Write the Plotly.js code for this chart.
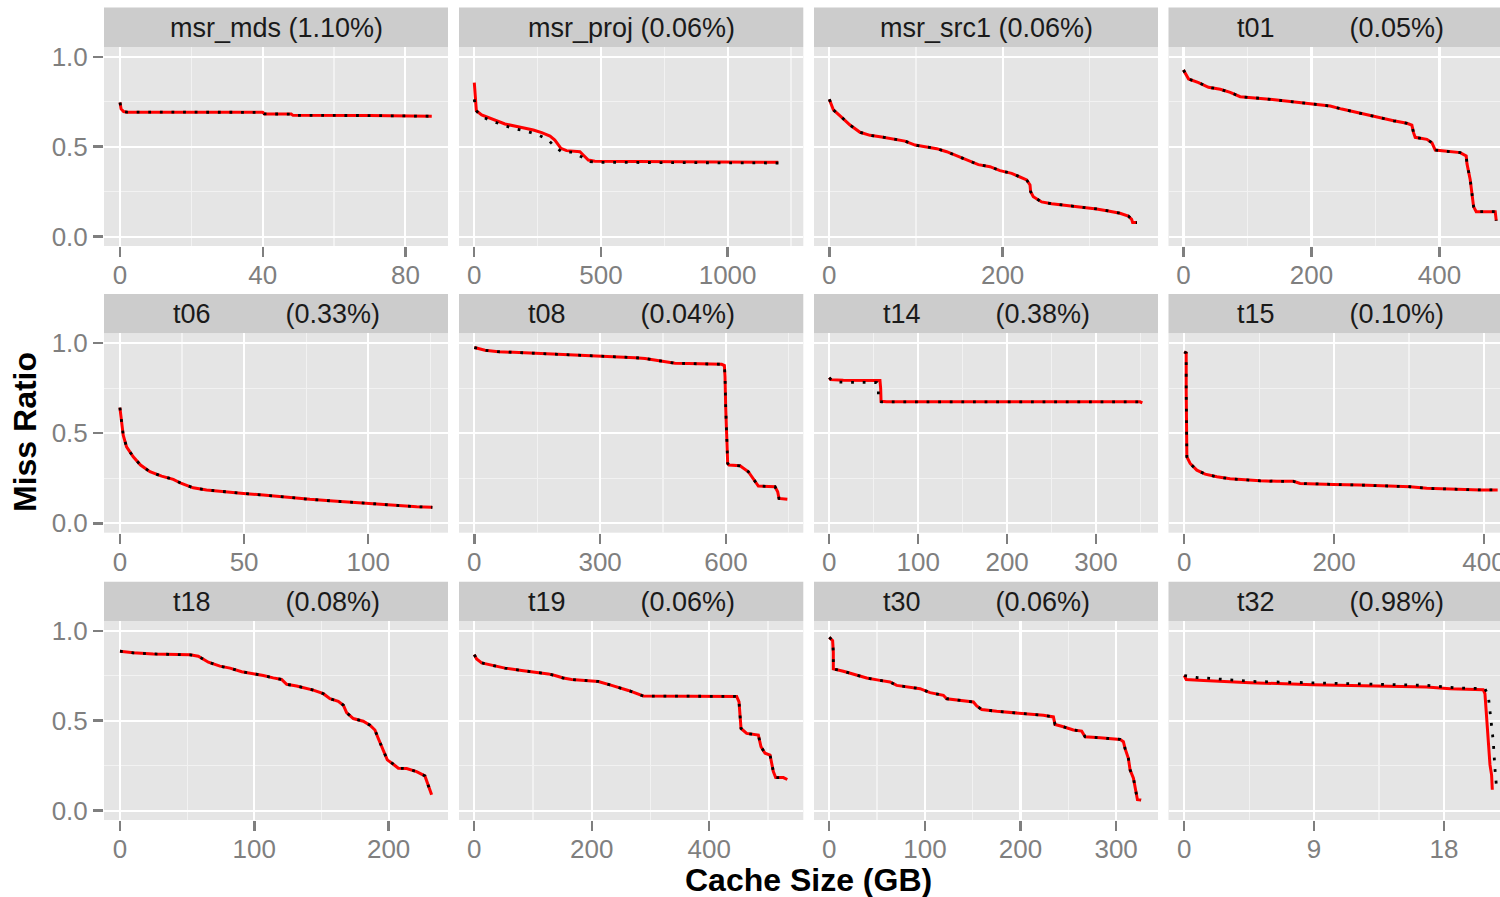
<!DOCTYPE html>
<html><head><meta charset="utf-8">
<script src="https://cdn.plot.ly/plotly-3.0.1.min.js"></script>
<style>html,body{margin:0;padding:0;overflow:hidden;background:#fff;width:1500px;height:897px}#chart{width:1513px;height:897px}</style>
</head><body><div id="chart"></div><script>
// ---------- data ----------
const traceNames = ['msr_mds','msr_proj','msr_src1','t01','t06','t08','t14','t15','t18','t19','t30','t32'];
const tracePct = ['1.10%','0.06%','0.06%','0.05%','0.33%','0.04%','0.38%','0.10%','0.08%','0.06%','0.06%','0.98%'];

const msrMdsX = [0, 0.3, 1, 2, 40, 40.5, 48, 48.5, 70, 87.4];
const msrMdsY = [0.745, 0.71, 0.695, 0.692, 0.691, 0.682, 0.681, 0.674, 0.673, 0.669];

const msrProjX = [0, 3, 5, 8, 29, 69, 121, 187, 233, 266, 299, 318, 342, 364, 417, 430, 450, 476, 641, 1200];
const msrProjY = [0.856, 0.80, 0.722, 0.700, 0.676, 0.654, 0.626, 0.607, 0.593, 0.578, 0.559, 0.537, 0.491, 0.478, 0.472, 0.454, 0.426, 0.419, 0.417, 0.413];
const msrProjBlackX = [0, 5, 29, 69, 141, 180, 220, 259, 292, 318, 345, 391, 424, 457, 503, 1226];
const msrProjBlackY = [0.763, 0.704, 0.667, 0.643, 0.607, 0.593, 0.580, 0.561, 0.537, 0.5, 0.472, 0.469, 0.441, 0.417, 0.413, 0.409];

const msrSrc1X = [0, 4.7, 14.3, 23.9, 35.4, 47.0, 60.4, 73.9, 87.3, 98.9, 110.4, 123.9, 135.4, 148.9, 160.4, 172.0, 185.4, 197.0, 210.4, 220.0, 227.7, 231.6, 232.3, 235.4, 245.0, 256.6, 270.0, 283.5, 296.9, 308.5, 321.9, 335.4, 345.0, 348.9, 350.0, 355.0];
const msrSrc1Y = [0.763, 0.704, 0.663, 0.620, 0.580, 0.563, 0.554, 0.543, 0.531, 0.509, 0.500, 0.489, 0.472, 0.444, 0.422, 0.400, 0.389, 0.367, 0.352, 0.333, 0.315, 0.287, 0.250, 0.222, 0.193, 0.183, 0.176, 0.169, 0.163, 0.154, 0.143, 0.130, 0.115, 0.096, 0.078, 0.078];

const t01X = [0, 7.9, 23.5, 39.1, 57.3, 73.0, 88.6, 104.2, 125.1, 145.9, 171.9, 192.8, 208.4, 229.2, 247.4, 265.7, 286.5, 307.3, 328.2, 349.0, 356.8, 359.4, 362.0, 380.3, 388.1, 393.3, 411.5, 432.3, 441.7, 442.8, 448.0, 450.6, 453.2, 457.3, 487.0, 488.6];
const t01Y = [0.926, 0.876, 0.856, 0.830, 0.819, 0.802, 0.778, 0.774, 0.767, 0.759, 0.750, 0.741, 0.735, 0.726, 0.709, 0.694, 0.674, 0.657, 0.644, 0.630, 0.620, 0.578, 0.552, 0.541, 0.522, 0.481, 0.476, 0.467, 0.448, 0.407, 0.315, 0.241, 0.167, 0.139, 0.139, 0.089];

const t06X = [0, 0.27, 0.67, 1.34, 2.68, 5.37, 8.32, 12.1, 16.8, 21.5, 24.8, 29.5, 34.9, 43.0, 49.7, 57.7, 67.1, 76.5, 85.9, 94.0, 103.4, 110.1, 119.5, 125.8];
const t06Y = [0.642, 0.609, 0.554, 0.489, 0.424, 0.369, 0.323, 0.286, 0.262, 0.244, 0.221, 0.197, 0.185, 0.173, 0.166, 0.157, 0.144, 0.133, 0.124, 0.116, 0.107, 0.098, 0.092, 0.089];

const t08X = [0, 25.5, 57.3, 113, 160.7, 216.3, 271.9, 327.6, 383.2, 407.1, 430.9, 454.8, 478.6, 510.4, 589.9, 596.3, 597.9, 599.4, 601.8, 604.2, 607.4, 633.6, 653.5, 669.4, 677.3, 717.1, 723.4, 726.6, 740.9, 746.5];
const t08Y = [0.975, 0.960, 0.952, 0.947, 0.941, 0.936, 0.932, 0.927, 0.919, 0.914, 0.904, 0.895, 0.888, 0.886, 0.882, 0.875, 0.812, 0.646, 0.461, 0.332, 0.323, 0.319, 0.286, 0.231, 0.207, 0.203, 0.175, 0.138, 0.133, 0.133];

const t14X = [0, 1.5, 15.8, 57.0, 57.8, 58.2, 64.5, 349.5, 352.1];
const t14Y = [0.808, 0.797, 0.794, 0.792, 0.748, 0.677, 0.674, 0.674, 0.668];
const t14BlackX = [0, 2.7, 10.2, 53.3, 55.2, 55.2, 58.9, 349.5];
const t14BlackY = [0.808, 0.794, 0.783, 0.781, 0.748, 0.677, 0.674, 0.674];

const t15X = [0, 2.7, 2.7, 3.1, 3.6, 8, 16.9, 28, 43.6, 61.3, 83.6, 101.3, 123.6, 145.8, 154.7, 172.4, 199.1, 234.7, 279.1, 301.3, 323.6, 350.2, 394.7, 418.2];
const t15Y = [0.951, 0.945, 0.738, 0.461, 0.369, 0.332, 0.295, 0.273, 0.258, 0.247, 0.240, 0.236, 0.233, 0.233, 0.221, 0.218, 0.216, 0.212, 0.207, 0.203, 0.194, 0.190, 0.185, 0.185];

const t18X = [0, 9.9, 24.8, 42.2, 52.1, 58.3, 65.8, 74.4, 81.9, 90.6, 99.3, 106.7, 114.1, 120.3, 124.1, 131.5, 143.9, 151.4, 156.3, 162.5, 166.3, 168.7, 173.7, 181.1, 186.1, 189.8, 192.3, 194.8, 197.3, 199.0, 203.5, 207.2, 213.4, 220.8, 227.0, 229.5, 232.0];
const t18Y = [0.886, 0.877, 0.871, 0.867, 0.866, 0.858, 0.825, 0.803, 0.792, 0.772, 0.761, 0.751, 0.738, 0.729, 0.702, 0.693, 0.670, 0.650, 0.622, 0.608, 0.586, 0.545, 0.512, 0.497, 0.475, 0.448, 0.401, 0.355, 0.319, 0.282, 0.258, 0.236, 0.234, 0.217, 0.193, 0.134, 0.088];

const t19X = [0, 4, 12.5, 29.6, 52.2, 80.6, 103.3, 126, 137.4, 151.6, 165.7, 194.1, 211.1, 233.8, 262.2, 287.7, 307.6, 364.3, 398.4, 446.6, 450.6, 452.3, 454, 463.6, 483.5, 488, 494.9, 503.4, 509, 513, 526, 532.8];
const t19Y = [0.867, 0.843, 0.821, 0.807, 0.792, 0.779, 0.770, 0.760, 0.751, 0.737, 0.729, 0.724, 0.718, 0.696, 0.668, 0.637, 0.637, 0.637, 0.635, 0.635, 0.604, 0.530, 0.457, 0.429, 0.420, 0.355, 0.319, 0.309, 0.217, 0.184, 0.184, 0.173];

const t30X = [0, 3.5, 4.2, 4.2, 14.7, 28.6, 39.1, 53, 63.5, 70.5, 84.4, 94.9, 105.4, 119.3, 122.8, 140.2, 150.7, 154.2, 159.4, 175.1, 196, 223.9, 234.4, 236.1, 244.8, 255.3, 264, 267.5, 283.2, 304.1, 307.6, 309.3, 312.8, 314.6, 318.1, 319.8, 322.3, 326.1];
const t30Y = [0.963, 0.945, 0.880, 0.788, 0.775, 0.755, 0.737, 0.724, 0.715, 0.696, 0.687, 0.678, 0.656, 0.641, 0.622, 0.611, 0.604, 0.582, 0.562, 0.552, 0.543, 0.530, 0.521, 0.479, 0.466, 0.448, 0.442, 0.411, 0.405, 0.396, 0.383, 0.346, 0.291, 0.227, 0.180, 0.125, 0.061, 0.059];

const t32X = [0, 0.14, 1.34, 4.57, 8.95, 13.34, 16.8, 18.42, 20.72, 20.84, 20.96, 21.07, 21.19, 21.3, 21.35];
const t32Y = [0.751, 0.729, 0.724, 0.711, 0.700, 0.692, 0.687, 0.678, 0.672, 0.650, 0.530, 0.383, 0.254, 0.199, 0.116];
const t32BlackX = [0, 0.88, 4.8, 8.95, 13.57, 16.8, 19.11, 20.84, 21.07, 21.23, 21.42, 21.53, 21.65];
const t32BlackY = [0.751, 0.740, 0.718, 0.711, 0.702, 0.696, 0.681, 0.678, 0.641, 0.530, 0.383, 0.236, 0.125];

// x tick labels per panel
const xTicks = [[0,40,80],[0,500,1000],[0,200],[0,200,400],[0,50,100],[0,300,600],[0,100,200,300],[0,200,400],[0,100,200],[0,200,400],[0,100,200,300],[0,9,18]];
const xMinor = [[20,60],[250,750,1250],[100,300],[100,300,500],[25,75,125],[150,450,750],[50,150,250,350],[100,300,500],[50,150,250],[100,300,500],[50,150,250,350],[4.5,13.5,22.5]];
const yTickVals = [0, 0.5, 1.0];
const yTickLabels = ['0.0', '0.5', '1.0'];

const redSeries = [[msrMdsX,msrMdsY],[msrProjX,msrProjY],[msrSrc1X,msrSrc1Y],[t01X,t01Y],[t06X,t06Y],[t08X,t08Y],[t14X,t14Y],[t15X,t15Y],[t18X,t18Y],[t19X,t19Y],[t30X,t30Y],[t32X,t32Y]];
const blackSeries = [[msrMdsX,msrMdsY],[msrProjBlackX,msrProjBlackY],[msrSrc1X,msrSrc1Y],[t01X,t01Y],[t06X,t06Y],[t08X,t08Y],[t14BlackX,t14BlackY],[t15X,t15Y],[t18X,t18Y],[t19X,t19Y],[t30X,t30Y],[t32BlackX,t32BlackY]];

// ---------- layout geometry (pixels) ----------
const W = 1513, H = 897;
const colPx = [[104,448],[459,803.3],[814,1158],[1168.5,1512.5]];
const rowPx = [[47,246],[333.3,532.7],[621,820]];
const stripPx = [[7.5,47],[294,333.3],[581.7,621]];
const xRanges = [[-4.49,91.95],[-60.4,1298.8],[-17.7,379.3],[-23.4,514],[-6.4,132.1],[-36.5,784.5],[-17.2,369.7],[-20.9,438],[-11.9,244.2],[-26,560],[-16,343.8],[-1.09,22.75]];
const yRange = [-0.052, 1.054];

const FONT = 'Liberation Sans, Arial, sans-serif';
const fx = p => p / W;
const fy = p => 1 - p / H;

const traces = [];
const layout = {
  width: W, height: H,
  margin: {l:0, r:0, t:0, b:0, pad:0},
  paper_bgcolor: '#ffffff', plot_bgcolor: '#E5E5E5',
  showlegend: false, hovermode: false,
  font: {family: FONT},
  shapes: [], annotations: []
};

for (let i = 0; i < 12; i++) {
  const r = Math.floor(i / 4), c = i % 4;
  const sfx = i === 0 ? '' : String(i + 1);
  traces.push({
    type: 'scatter', mode: 'lines', x: redSeries[i][0], y: redSeries[i][1],
    xaxis: 'x' + sfx, yaxis: 'y' + sfx,
    line: {color: '#FF0000', width: 3}
  });
  traces.push({
    type: 'scatter', mode: 'lines', x: blackSeries[i][0], y: blackSeries[i][1],
    xaxis: 'x' + sfx, yaxis: 'y' + sfx,
    line: {color: '#000000', width: 2.8, dash: '2.8px,8.8px'}
  });
  layout['xaxis' + sfx] = {
    domain: [fx(colPx[c][0]), fx(colPx[c][1])],
    anchor: 'y' + sfx, range: xRanges[i], fixedrange: true,
    tickmode: 'array', tickvals: xTicks[i], ticktext: xTicks[i].map(String),
    ticks: 'outside', ticklen: 10, tickwidth: 2.4, tickcolor: '#7F7F7F',
    ticklabelstandoff: -4,
    tickfont: {family: FONT, size: 26, color: '#7F7F7F'},
    showgrid: true, gridcolor: '#FFFFFF', gridwidth: 2.2,
    minor: {tickmode: 'array', tickvals: xMinor[i], showgrid: true, gridcolor: '#F2F2F2', gridwidth: 1.2, ticks: ''},
    zeroline: false, showline: false
  };
  layout['yaxis' + sfx] = {
    domain: [fy(rowPx[r][1]), fy(rowPx[r][0])],
    anchor: 'x' + sfx, range: yRange, fixedrange: true,
    tickmode: 'array', tickvals: yTickVals, ticktext: yTickLabels,
    ticks: c === 0 ? 'outside' : '', ticklen: 10, tickwidth: 2.4, tickcolor: '#7F7F7F',
    showticklabels: c === 0,
    tickfont: {family: FONT, size: 26, color: '#7F7F7F'},
    showgrid: true, gridcolor: '#FFFFFF', gridwidth: 2.2,
    minor: {tickmode: 'array', tickvals: [0.25, 0.75], showgrid: true, gridcolor: '#F2F2F2', gridwidth: 1.2, ticks: ''},
    zeroline: false, showline: false
  };
  // strip
  layout.shapes.push({
    type: 'rect', xref: 'paper', yref: 'paper', layer: 'below',
    x0: fx(colPx[c][0]), x1: fx(colPx[c][1]), y0: fy(stripPx[r][1]), y1: fy(stripPx[r][0]),
    fillcolor: '#CCCCCC', line: {width: 0}
  });
  const nm = traceNames[i];
  const label = nm.startsWith('msr') ? nm + ' (' + tracePct[i] + ')' : nm + '\u00A0'.repeat(10) + '(' + tracePct[i] + ')';
  layout.annotations.push({
    xref: 'paper', yref: 'paper', showarrow: false,
    x: fx((colPx[c][0] + colPx[c][1]) / 2), y: fy((stripPx[r][0] + stripPx[r][1]) / 2 + 0.5),
    xanchor: 'center', yanchor: 'middle', text: label,
    font: {family: FONT, size: 27, color: '#1A1A1A'}
  });
}

layout.annotations.push({
  xref: 'paper', yref: 'paper', showarrow: false,
  x: fx(808), y: fy(880), xanchor: 'center', yanchor: 'middle',
  text: '<b>Cache Size (GB)</b>', font: {family: FONT, size: 32, color: '#000000'}
});
layout.annotations.push({
  xref: 'paper', yref: 'paper', showarrow: false,
  x: fx(25), y: fy(432), xanchor: 'center', yanchor: 'middle', textangle: -90,
  text: '<b>Miss Ratio</b>', font: {family: FONT, size: 32, color: '#000000'}
});

Plotly.newPlot('chart', traces, layout, {displayModeBar: false, staticPlot: true});
</script></body></html>
